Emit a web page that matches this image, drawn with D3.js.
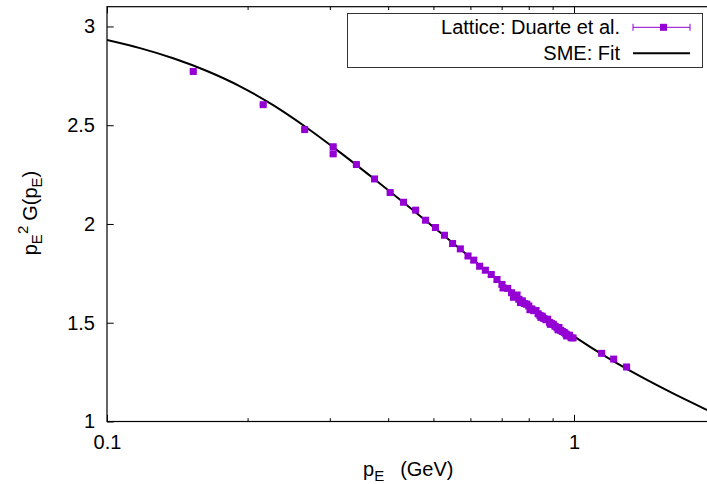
<!DOCTYPE html>
<html>
<head>
<meta charset="utf-8">
<script src="https://cdn.jsdelivr.net/npm/d3@7"></script>
<style>
  html, body { margin: 0; padding: 0; background: #fff; }
  svg { display: block; font-family: "Liberation Sans", Arial, Helvetica, sans-serif; }
</style>
</head>
<body>
<svg id="chart" width="707" height="484"></svg>
<script>
// Lattice gluon propagator dressing, p_E^2 G(p_E), Duarte et al.
const latticeP = [0.153, 0.216, 0.265, 0.305, 0.305, 0.342, 0.374, 0.404, 0.4315, 0.458,
  0.481, 0.505, 0.528, 0.5495, 0.571, 0.593, 0.610, 0.628, 0.646, 0.665,
  0.684, 0.701, 0.705, 0.721, 0.735, 0.742, 0.748, 0.755, 0.762, 0.768,
  0.775, 0.783, 0.792, 0.800, 0.805, 0.812, 0.820, 0.829, 0.838, 0.846,
  0.850, 0.855, 0.862, 0.871, 0.878, 0.886, 0.890, 0.894, 0.903, 0.911,
  0.920, 0.925, 0.928, 0.936, 0.944, 0.953, 0.961, 0.965, 0.970, 0.978,
  0.986, 0.995, 1.146, 1.216, 1.296];
const latticeG = [2.772, 2.604, 2.478, 2.391, 2.355, 2.301, 2.228, 2.159, 2.110, 2.070,
  2.019, 1.982, 1.943, 1.901, 1.874, 1.838, 1.817, 1.786, 1.766, 1.744,
  1.719, 1.694, 1.676, 1.674, 1.652, 1.629, 1.633, 1.640, 1.619, 1.602,
  1.611, 1.597, 1.594, 1.585, 1.566, 1.570, 1.561, 1.562, 1.545, 1.536,
  1.527, 1.533, 1.522, 1.515, 1.518, 1.502, 1.492, 1.497, 1.492, 1.482,
  1.474, 1.464, 1.476, 1.462, 1.456, 1.451, 1.443, 1.433, 1.436, 1.437,
  1.424, 1.423, 1.345, 1.316, 1.276];
const latticeErr = [0.004, 0.004, 0.005, 0.006, 0.006, 0.005, 0.005, 0.006, 0.006, 0.008,
  0.008, 0.010, 0.010, 0.008, 0.012, 0.010, 0.012, 0.010, 0.012, 0.010,
  0.012, 0.010, 0.012, 0.012, 0.010, 0.012, 0.012, 0.014, 0.012, 0.012,
  0.010, 0.012, 0.014, 0.010, 0.012, 0.012, 0.010, 0.012, 0.010, 0.012,
  0.012, 0.010, 0.014, 0.010, 0.012, 0.010, 0.012, 0.012, 0.010, 0.012,
  0.010, 0.012, 0.012, 0.010, 0.012, 0.010, 0.012, 0.012, 0.010, 0.012,
  0.010, 0.010, 0.006, 0.006, 0.006];

// SME fit curve, sampled along p_E
const fitP = [0.1, 0.1177, 0.1391, 0.1637, 0.1927, 0.2278, 0.2682, 0.3155, 0.3729, 0.4389,
  0.5165, 0.6107, 0.7188, 0.8456, 1.0, 1.1768, 1.3844, 1.6373, 1.9268, 2.0];
const fitG = [2.9315, 2.8904, 2.8378, 2.7745, 2.6970, 2.5988, 2.4859, 2.3624, 2.2287, 2.0951,
  1.9579, 1.8151, 1.6799, 1.5524, 1.4308, 1.3245, 1.2293, 1.1397, 1.0587, 1.0405];

// axis ticks
const xMajorTicks = [0.1, 1];
const xMinorTicks = [0.2, 0.3, 0.4, 0.5, 0.6, 0.7, 0.8, 0.9, 2];
const yTicks = [1, 1.5, 2, 2.5, 3];

const legendLabels = ["Lattice: Duarte et al.", "SME: Fit"];

const purple = "#9400d3";
const svg = d3.select("#chart");
const plotLeft = 107, plotTop = 6.7, plotBottom = 421.5;

const x = d3.scaleLog().domain([0.1, 2]).range([plotLeft, plotLeft + 467 * Math.log10(20)]);
const y = d3.scaleLinear().domain([1, 3.1]).range([plotBottom, plotTop]);
const plotRight = x(2);

svg.append("defs").append("clipPath").attr("id", "plotClip")
  .append("rect").attr("x", plotLeft).attr("y", plotTop)
  .attr("width", plotRight - plotLeft).attr("height", plotBottom - plotTop);

// tick marks (inward, gnuplot style) and labels
const fmt = d3.format("~g");
const axBottom = svg.append("g").attr("transform", `translate(0,${plotBottom})`)
  .call(d3.axisBottom(x).tickValues(xMajorTicks).tickSize(-6.7).tickPadding(13.5).tickFormat(fmt));
const axBottomMinor = svg.append("g").attr("transform", `translate(0,${plotBottom})`)
  .call(d3.axisBottom(x).tickValues(xMinorTicks).tickSize(-3.3).tickFormat(""));
const axTop = svg.append("g").attr("transform", `translate(0,${plotTop})`)
  .call(d3.axisTop(x).tickValues(xMajorTicks).tickSize(-6.7).tickFormat(""));
const axTopMinor = svg.append("g").attr("transform", `translate(0,${plotTop})`)
  .call(d3.axisTop(x).tickValues(xMinorTicks).tickSize(-3.3).tickFormat(""));
const axLeft = svg.append("g").attr("transform", `translate(${plotLeft},0)`)
  .call(d3.axisLeft(y).tickValues(yTicks).tickSize(-6.7).tickPadding(12).tickFormat(fmt));
const axRight = svg.append("g").attr("transform", `translate(${plotRight},0)`)
  .call(d3.axisRight(y).tickValues(yTicks).tickSize(-6.7).tickFormat(""));

[axBottom, axBottomMinor, axTop, axTopMinor, axLeft, axRight].forEach(g => {
  g.select(".domain").remove();
  g.selectAll(".tick line").attr("stroke", "#000").attr("stroke-width", 1);
  g.selectAll("text").attr("font-size", 20).attr("font-family", "Liberation Sans, Arial, sans-serif").attr("fill", "#000");
});

// frame
svg.append("rect").attr("x", plotLeft).attr("y", plotTop)
  .attr("width", plotRight - plotLeft).attr("height", plotBottom - plotTop)
  .attr("fill", "none").attr("stroke", "#000").attr("stroke-width", 1.2);

// fit curve
const line = d3.line().x(d => x(d[0])).y(d => y(d[1])).curve(d3.curveMonotoneX);
svg.append("path")
  .datum(fitP.map((p, i) => [p, fitG[i]]))
  .attr("clip-path", "url(#plotClip)")
  .attr("d", line).attr("fill", "none").attr("stroke", "#000").attr("stroke-width", 2);

// lattice points with error bars
const pts = latticeP.map((p, i) => ({ p, g: latticeG[i], e: latticeErr[i] }));
const pg = svg.append("g").attr("clip-path", "url(#plotClip)");
const eb = pg.selectAll("g.eb").data(pts).join("g").attr("class", "eb")
  .attr("stroke", purple).attr("stroke-width", 1);
eb.append("line").attr("x1", d => x(d.p)).attr("x2", d => x(d.p))
  .attr("y1", d => y(d.g - d.e)).attr("y2", d => y(d.g + d.e));
eb.append("line").attr("x1", d => x(d.p) - 3.5).attr("x2", d => x(d.p) + 3.5)
  .attr("y1", d => y(d.g - d.e)).attr("y2", d => y(d.g - d.e));
eb.append("line").attr("x1", d => x(d.p) - 3.5).attr("x2", d => x(d.p) + 3.5)
  .attr("y1", d => y(d.g + d.e)).attr("y2", d => y(d.g + d.e));
pg.selectAll("rect.pt").data(pts).join("rect").attr("class", "pt")
  .attr("x", d => x(d.p) - 3.5).attr("y", d => y(d.g) - 3.5)
  .attr("width", 7).attr("height", 7).attr("fill", purple);

// legend
const lg = svg.append("g");
lg.append("rect").attr("x", 347.5).attr("y", 13.5).attr("width", 355).attr("height", 54)
  .attr("fill", "#fff").attr("stroke", "#333").attr("stroke-width", 1);
const rowY = [27.3, 53.3];
lg.selectAll("text").data(legendLabels).join("text")
  .attr("x", 620).attr("y", (d, i) => rowY[i]).attr("dy", "0.35em")
  .attr("text-anchor", "end").attr("font-size", 20).text(d => d);
lg.append("line").attr("x1", 633).attr("x2", 690).attr("y1", rowY[0]).attr("y2", rowY[0])
  .attr("stroke", purple).attr("stroke-width", 1);
[633, 690].forEach(cx => lg.append("line").attr("x1", cx).attr("x2", cx)
  .attr("y1", rowY[0] - 3.5).attr("y2", rowY[0] + 3.5).attr("stroke", purple));
lg.append("rect").attr("x", 660).attr("y", rowY[0] - 3.5).attr("width", 7).attr("height", 7).attr("fill", purple);
lg.append("line").attr("x1", 633).attr("x2", 690).attr("y1", rowY[1]).attr("y2", rowY[1])
  .attr("stroke", "#000").attr("stroke-width", 2);

// axis titles
const xt = svg.append("text").attr("x", 363).attr("y", 476).attr("font-size", 20);
xt.append("tspan").text("p");
xt.append("tspan").attr("font-size", 15).attr("dy", 5).text("E");
xt.append("tspan").attr("dy", -5).attr("dx", 16).text("(GeV)");

const yt = svg.append("text").attr("transform", "translate(37,213) rotate(-90)")
  .attr("text-anchor", "middle").attr("font-size", 20);
yt.append("tspan").text("p");
yt.append("tspan").attr("font-size", 15).attr("dy", 5).text("E");
yt.append("tspan").attr("font-size", 15).attr("dy", -14).text("2");
yt.append("tspan").attr("dy", 9).attr("dx", 5).text("G(p");
yt.append("tspan").attr("font-size", 15).attr("dy", 5).text("E");
yt.append("tspan").attr("dy", -5).text(")");
</script>
</body>
</html>
